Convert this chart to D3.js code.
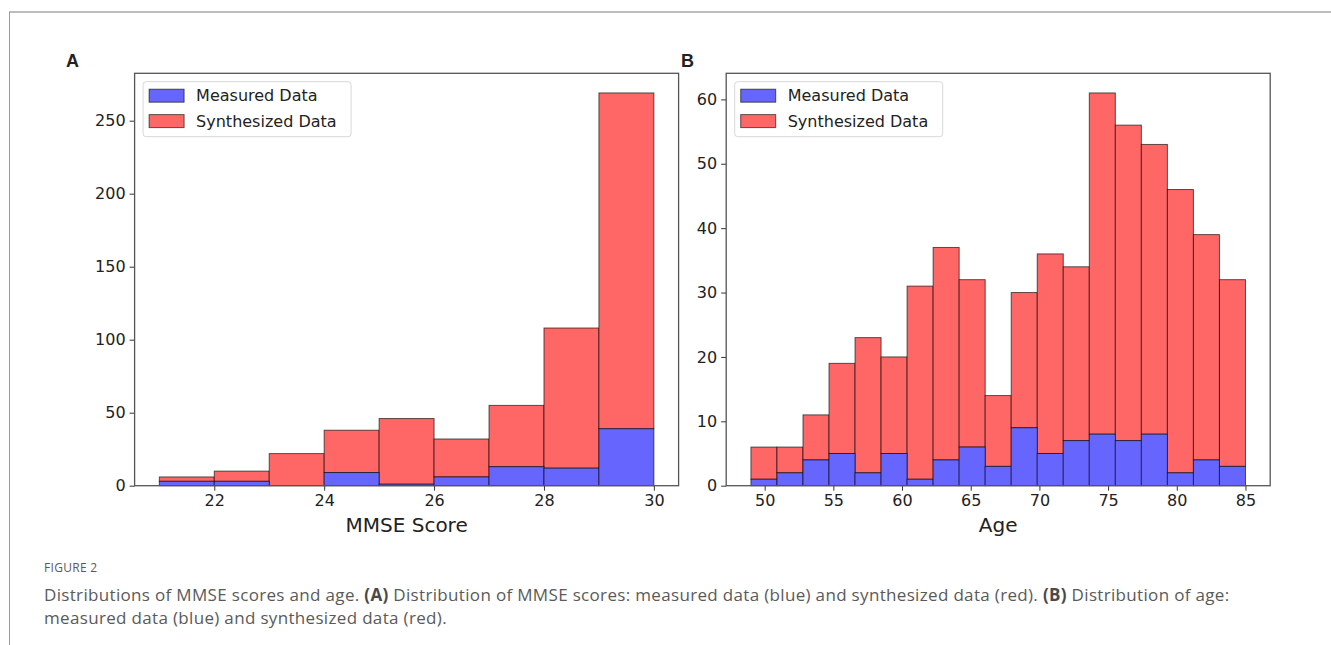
<!DOCTYPE html>
<html>
<head>
<meta charset="utf-8">
<script src="https://cdn.jsdelivr.net/npm/d3@7"></script>
<style>
  body { margin: 0; background: #fff; }
  svg text { font-family: "DejaVu Sans", sans-serif; fill: #222; }
  .caption text { font-family: "Open Sans", "Noto Sans", sans-serif; fill: #5a5a5a; }
</style>
</head>
<body>
<div id="chart"></div>
<script>
// Panel A: MMSE score histogram, bins of width 1 from 21 to 30
const mmseEdges = [21, 22, 23, 24, 25, 26, 27, 28, 29, 30];
const mmseMeasured = [3, 3, 0, 9, 1, 6, 13, 12, 39];
const mmseTotal = [6, 10, 22, 38, 46, 32, 55, 108, 269];
const mmseTicks = [22, 24, 26, 28, 30];
const mmseYTicks = [0, 50, 100, 150, 200, 250];

// Panel B: age histogram, 19 bins from 49 to 85
const ageMin = 49, ageMax = 85, ageBins = 19;
const ageMeasured = [1, 2, 4, 5, 2, 5, 1, 4, 6, 3, 9, 5, 7, 8, 7, 8, 2, 4, 3];
const ageTotal = [6, 6, 11, 19, 23, 20, 31, 37, 32, 14, 30, 36, 34, 61, 56, 53, 46, 39, 32];
const ageTicks = [50, 55, 60, 65, 70, 75, 80, 85];
const ageYTicks = [0, 10, 20, 30, 40, 50, 60];

const seriesNames = ["Measured Data", "Synthesized Data"];
const seriesColors = ["#6666ff", "#ff6666"];

const width = 1331, height = 645;
const svg = d3.select("#chart").append("svg")
    .attr("width", width)
    .attr("height", height);

// figure frame
svg.append("line").attr("x1", 9).attr("x2", width).attr("y1", 12).attr("y2", 12)
    .attr("stroke", "#bdbdbd").attr("stroke-width", 2);
svg.append("line").attr("x1", 9.5).attr("x2", 9.5).attr("y1", 12).attr("y2", height)
    .attr("stroke", "#9a9a9a").attr("stroke-width", 1);

const plotTop = 73.3, plotBottom = 485.7, plotW = 544;

function drawPanel(opts) {
    const left = opts.left;
    const g = svg.append("g");

    const span = opts.edges[opts.edges.length - 1] - opts.edges[0];
    const x = d3.scaleLinear()
        .domain([opts.edges[0] - span * 0.05, opts.edges[opts.edges.length - 1] + span * 0.05])
        .range([left, left + plotW]);
    const y = d3.scaleLinear()
        .domain([0, d3.max(opts.total) * 1.05])
        .range([plotBottom, plotTop]);

    const bins = opts.total.map((t, i) => ({
        x0: opts.edges[i], x1: opts.edges[i + 1], m: opts.measured[i], t: t
    }));

    // synthesized (stacked on top of measured)
    g.selectAll(".syn").data(bins).enter().append("rect")
        .attr("x", d => x(d.x0))
        .attr("width", d => x(d.x1) - x(d.x0))
        .attr("y", d => y(d.t))
        .attr("height", d => y(d.m) - y(d.t))
        .attr("fill", seriesColors[1])
        .attr("stroke", "rgba(0,0,0,0.62)")
        .attr("stroke-width", 1);

    g.selectAll(".meas").data(bins.filter(d => d.m > 0)).enter().append("rect")
        .attr("x", d => x(d.x0))
        .attr("width", d => x(d.x1) - x(d.x0))
        .attr("y", d => y(d.m))
        .attr("height", d => y(0) - y(d.m))
        .attr("fill", seriesColors[0])
        .attr("stroke", "rgba(0,0,0,0.62)")
        .attr("stroke-width", 1);

    // axes
    const xAxis = g.append("g")
        .attr("transform", `translate(0,${plotBottom})`)
        .call(d3.axisBottom(x).tickValues(opts.xTicks).tickSize(5).tickPadding(4).tickFormat(d3.format("d")));
    const yAxis = g.append("g")
        .attr("transform", `translate(${left},0)`)
        .call(d3.axisLeft(y).tickValues(opts.yTicks).tickSize(5).tickPadding(4).tickFormat(d3.format("d")));
    [xAxis, yAxis].forEach(a => {
        a.select(".domain").remove();
        a.selectAll(".tick line").attr("stroke", "#333");
        a.selectAll(".tick text").attr("font-size", 16).attr("fill", "#222")
            .style("font-family", "DejaVu Sans, sans-serif");
    });

    // frame (spines)
    g.append("rect")
        .attr("x", left).attr("y", plotTop)
        .attr("width", plotW).attr("height", plotBottom - plotTop)
        .attr("fill", "none").attr("stroke", "#555").attr("stroke-width", 1.3);

    // axis label
    g.append("text")
        .attr("x", left + plotW / 2).attr("y", 532)
        .attr("text-anchor", "middle").attr("font-size", 20)
        .text(opts.xLabel);

    // panel letter
    g.append("text")
        .attr("x", opts.letterX).attr("y", 67)
        .attr("font-size", 18).attr("font-weight", "bold")
        .style("font-family", "Liberation Sans, Arial, sans-serif")
        .text(opts.letter);

    // legend
    const lg = g.append("g").attr("transform", `translate(${left + 8.5},81.7)`);
    lg.append("rect").attr("width", 208).attr("height", 55).attr("rx", 3)
        .attr("fill", "rgba(255,255,255,0.8)").attr("stroke", "#d8d8d8");
    seriesNames.forEach((name, i) => {
        lg.append("rect")
            .attr("x", 6).attr("y", 7.5 + i * 25.4)
            .attr("width", 35).attr("height", 13)
            .attr("fill", seriesColors[i])
            .attr("stroke", "rgba(0,0,0,0.6)");
        lg.append("text")
            .attr("x", 53).attr("y", 14 + i * 25.4)
            .attr("dy", "0.35em").attr("font-size", 16)
            .text(name);
    });
}

drawPanel({
    left: 134.6, edges: mmseEdges, measured: mmseMeasured, total: mmseTotal,
    xTicks: mmseTicks, yTicks: mmseYTicks, xLabel: "MMSE Score", letter: "A", letterX: 66
});

const ageStep = (ageMax - ageMin) / ageBins;
const ageEdges = d3.range(ageBins + 1).map(i => ageMin + i * ageStep);
drawPanel({
    left: 726.2, edges: ageEdges, measured: ageMeasured, total: ageTotal,
    xTicks: ageTicks, yTicks: ageYTicks, xLabel: "Age", letter: "B", letterX: 681
});

// caption
const cap = svg.append("g").attr("class", "caption");
cap.append("text").attr("x", 44).attr("y", 572)
    .attr("font-size", 12).attr("letter-spacing", 0.3).text("FIGURE 2");
const line1 = cap.append("text").attr("x", 44).attr("y", 601)
    .attr("font-size", 17).attr("letter-spacing", 0.33);
line1.append("tspan").text("Distributions of MMSE scores and age. ");
line1.append("tspan").attr("font-weight", "bold").style("fill", "#4a4a4a").text("(A)");
line1.append("tspan").text(" Distribution of MMSE scores: measured data (blue) and synthesized data (red). ");
line1.append("tspan").attr("font-weight", "bold").style("fill", "#4a4a4a").text("(B)");
line1.append("tspan").text(" Distribution of age:");
cap.append("text").attr("x", 44).attr("y", 624)
    .attr("font-size", 17).attr("letter-spacing", 0.33)
    .text("measured data (blue) and synthesized data (red).");
</script>
</body>
</html>
